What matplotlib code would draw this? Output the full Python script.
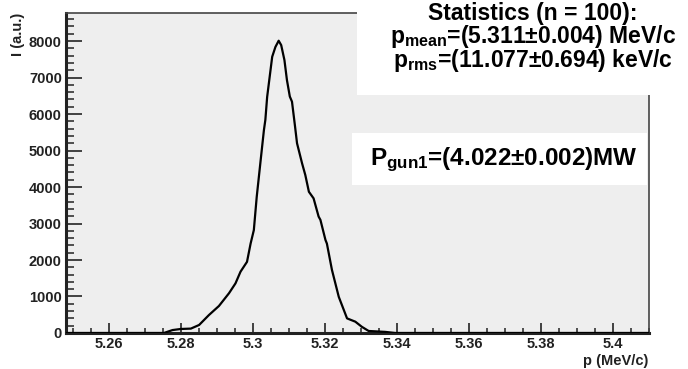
import numpy as np
import matplotlib
matplotlib.use("Agg")
import matplotlib.pyplot as plt
from matplotlib.patches import Rectangle
from matplotlib.ticker import MultipleLocator

# momentum spectrum
p_vals = [5.2480, 5.2752, 5.2776, 5.2799, 5.2827, 5.2850, 5.2877, 5.2905, 5.2933,
          5.2951, 5.2965, 5.2983, 5.2993, 5.3002, 5.3010, 5.3021, 5.3030, 5.3034,
          5.3039, 5.3053, 5.3062, 5.3071, 5.3078, 5.3087, 5.3094, 5.3102, 5.3108,
          5.3116, 5.3122, 5.3136, 5.3145, 5.3155, 5.3168, 5.3182, 5.3187, 5.3201,
          5.3205, 5.3219, 5.3238, 5.3261, 5.3284, 5.3302, 5.3321, 5.3367, 5.3395,
          5.4100]
intensity = [0, 0, 80, 110, 120, 220, 490, 740, 1090,
             1360, 1680, 1950, 2450, 2820, 3730, 4740, 5560, 5840,
             6470, 7570, 7840, 8010, 7890, 7480, 6930, 6480, 6340,
             5700, 5200, 4650, 4330, 3870, 3690, 3190, 3100, 2550,
             2450, 1730, 990, 400, 310, 170, 55, 30, 0,
             0]

x_ticks = [5.26, 5.28, 5.30, 5.32, 5.34, 5.36, 5.38, 5.40]
x_tick_labels = ["5.26", "5.28", "5.3", "5.32", "5.34", "5.36", "5.38", "5.4"]
y_ticks = [0, 1000, 2000, 3000, 4000, 5000, 6000, 7000, 8000]

stats_lines = ("Statistics (n = 100):\n"
               + r"p$_{\mathbf{mean}}$=(5.311$\pm$0.004) MeV/c" + "\n"
               + r"p$_{\mathbf{rms}}$=(11.077$\pm$0.694) keV/c")
gun_text = r"P$_{\mathbf{gun1}}$=(4.022±0.002)MW"

plt.rcParams['font.family'] = ['Liberation Sans', 'DejaVu Sans']
plt.rcParams['font.weight'] = 'bold'
plt.rcParams['mathtext.fontset'] = 'custom'
plt.rcParams['mathtext.rm'] = 'Liberation Sans:bold'
plt.rcParams['mathtext.bf'] = 'Liberation Sans:bold'
plt.rcParams['mathtext.it'] = 'Liberation Sans:bold'

fig = plt.figure(figsize=(6.88, 3.69), dpi=100)
ax = fig.add_axes([0.0959, 0.0976, 0.8474, 0.8672])
ax.set_facecolor('#eeeeee')

ax.plot(p_vals, intensity, color='black', lw=1.6, zorder=3)

ax.set_xlim(5.248, 5.41)
ax.set_ylim(0, 8770)
ax.set_xticks(x_ticks)
ax.set_xticklabels(x_tick_labels)
ax.set_yticks(y_ticks)
ax.xaxis.set_minor_locator(MultipleLocator(0.005))
ax.yaxis.set_minor_locator(MultipleLocator(200))

ax.tick_params(axis='y', which='major', direction='in', length=11.5, width=1.3,
               color='#333333', labelsize=10.5, labelcolor='#222222', pad=3)
ax.tick_params(axis='y', which='minor', direction='in', length=5.5, width=1.2,
               color='#333333')
ax.tick_params(axis='x', which='major', direction='in', length=7, width=1.3,
               color='#333333', labelsize=10.5, labelcolor='#222222', pad=3)
ax.tick_params(axis='x', which='minor', direction='in', length=3.5, width=1.2,
               color='#333333')

for side in ['left', 'bottom']:
    ax.spines[side].set_linewidth(2.2)
    ax.spines[side].set_color('#222222')
for side in ['top', 'right']:
    ax.spines[side].set_linewidth(1.2)
    ax.spines[side].set_color('#444444')

fig.text(0.943, 0.022, "p (MeV/c)", ha='right', va='center', fontsize=10.5,
         color='#222222')
fig.text(0.026, 0.908, "I (a.u.)", ha='center', va='center', rotation=90,
         fontsize=10.5, color='#222222')

# statistics box
fig.patches.append(Rectangle((0.519, 0.7425), 0.481, 0.2575, transform=fig.transFigure,
                             facecolor='white', edgecolor='none', zorder=5))
fig.text(0.775, 0.897, stats_lines, ha='center', va='center', multialignment='center',
         fontsize=16.5, linespacing=0.88, zorder=6)

# gun power box
fig.patches.append(Rectangle((0.5116, 0.4986), 0.4288, 0.1409, transform=fig.transFigure,
                             facecolor='white', edgecolor='none', zorder=5))
fig.text(0.733, 0.566, gun_text, ha='center', va='center', fontsize=17.5, zorder=6)

fig.savefig("out.png", dpi=100)
